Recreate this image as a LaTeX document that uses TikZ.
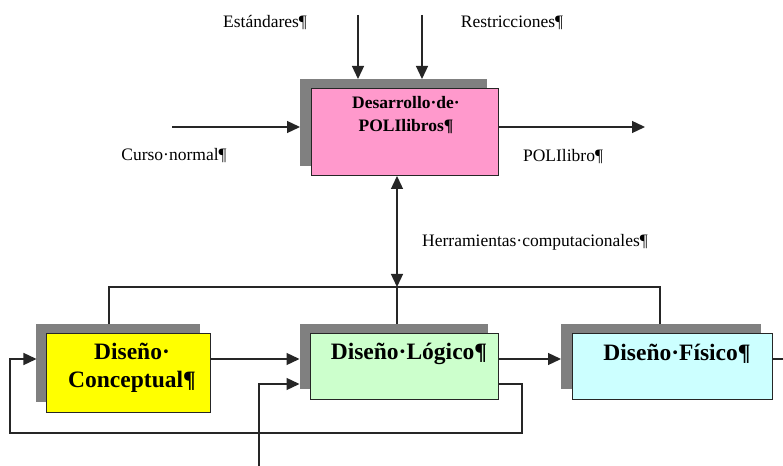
\documentclass[tikz,border=0pt]{standalone}
\usepackage{fontspec}
\setmainfont{Liberation Serif}
\usetikzlibrary{arrows.meta,calc}
\definecolor{pinkf}{HTML}{FF99CC}
\definecolor{yellowf}{HTML}{FFFF00}
\definecolor{greenf}{HTML}{CCFFCC}
\definecolor{cyanf}{HTML}{CCFFFF}
\definecolor{shadowgray}{HTML}{808080}
\definecolor{linegray}{HTML}{262626}
\begin{document}
\begin{tikzpicture}[x=1bp,y=-1bp,
  lbl/.style={font=\fontsize{17.5bp}{21bp}\selectfont, inner sep=0pt},
  ttl/.style={font=\bfseries\fontsize{17.5bp}{23bp}\selectfont, align=center, inner sep=0pt},
  big/.style={font=\bfseries\fontsize{23.5bp}{28bp}\selectfont, align=center, inner sep=0pt},
  shad/.style 2 args={fill=shadowgray, draw=none, inner sep=0pt, outer sep=0pt, minimum width=#1, minimum height=#2},
  procbox/.style 2 args={draw=linegray, line width=1bp, inner sep=0pt, outer sep=0pt, minimum width=#1, minimum height=#2},
  conn/.style={draw=linegray, line width=1.3bp},
  arr/.style={conn, -{Triangle[length=13bp,width=12bp]}},
  arrtwo/.style={conn, {Triangle[length=13bp,width=12bp]}-{Triangle[length=13bp,width=12bp]}}
]
\useasboundingbox (0,0) rectangle (783,466);
\fill[white] (0,0) rectangle (783,466);

% shadows
\node[shad={187bp}{87bp}] (ps) at (393.5,122.5) {};
\node[shad={163bp}{78bp}] (ys) at (118,363) {};
\node[shad={188bp}{65bp}] (gs) at (393.5,356.5) {};
\node[shad={200bp}{65bp}] (bs) at (661,356.5) {};

% boxes
\node[procbox={187bp}{87bp}, fill=pinkf] (pb) at (404.5,132.5) {};
\node[procbox={163bp}{78bp}, fill=yellowf] (yb) at (128.5,373) {};
\node[procbox={188bp}{65bp}, fill=greenf] (gb) at (404,366.5) {};
\node[procbox={200bp}{65bp}, fill=cyanf] (bb) at (672,366.5) {};

% box texts
\node[ttl] (pt) at (406,115) {Desarrollo·de·\\POLIlibros¶};
\node[big] (yt) at (132,368) {Diseño·\\Conceptual¶};
\node[big] (gt) at (409,354) {Diseño·Lógico¶};
\node[big] (bt) at (677,354) {Diseño·Físico¶};

% labels
\node[lbl] (est) at (265,23) {Estándares¶};
\node[lbl] (res) at (512,23) {Restricciones¶};
\node[lbl] (cur) at (174,156) {Curso·normal¶};
\node[lbl] (pol) at (563,157) {POLIlibro¶};
\node[lbl, anchor=west] (her) at (422,242) {Herramientas·computacionales¶};

% free ends
\coordinate (e1) at (358,15);
\coordinate (e2) at (422,15);
\coordinate (c1) at (172,127);
\coordinate (o1) at (645,127);
\coordinate (bus) at (397,287);
\coordinate (b1) at (109,287);
\coordinate (b3) at (660,287);
\coordinate (r1) at (0,359);
\coordinate (r2) at (0,384);
\coordinate (l1) at (522,433);
\coordinate (l2) at (10,433);
\coordinate (u1) at (259,466);
\coordinate (rend) at (783,359);

% top connectors
\draw[arr] (e1) -- (e1 |- ps.north);
\draw[arr] (e2) -- (e2 |- ps.north);
\draw[arr] (c1) -- (c1 -| ps.west);
\draw[arr] (c1 -| pb.east) -- (o1);
\draw[arrtwo] (bus |- pb.south) -- (bus);

% bus
\draw[conn] (b1 |- ys.north) -- (b1) -- (b3) -- (b3 |- bs.north);
\draw[conn] (bus) -- (bus |- gs.north);

% flow
\draw[arr] (r1 -| yb.east) -- (r1 -| gs.west);
\draw[arr] (r1 -| gb.east) -- (r1 -| bs.west);
\draw[conn] (r1 -| bb.east) -- (rend);

% feedback loop
\draw[arr] (r2 -| gb.east) -- (l1 |- r2) -- (l1) -- (l2) -- (l2 |- r1) -- (r1 -| ys.west);

% bottom input
\draw[arr] (u1) -- (u1 |- r2) -- (r2 -| gs.west);
\end{tikzpicture}
\end{document}
